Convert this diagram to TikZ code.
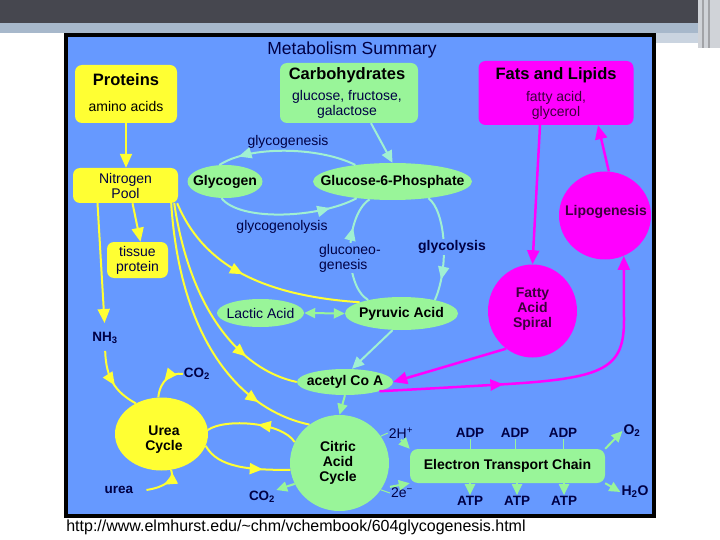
\documentclass[tikz,border=0pt]{standalone}
\usepackage{fontspec}
\setmainfont{Liberation Sans}
\usetikzlibrary{arrows.meta,shapes.geometric,decorations.markings}
\definecolor{slideDark}{HTML}{46474F}
\definecolor{slideBand}{HTML}{A7B8CB}
\definecolor{slideEdge}{HTML}{D0D3D8}
\definecolor{metaBlue}{HTML}{6699FF}
\definecolor{metaNavy}{HTML}{000044}
\definecolor{metaPlum}{HTML}{3C003C}
\definecolor{metaYellow}{HTML}{FFFF33}
\definecolor{metaGreen}{HTML}{99F599}
\definecolor{metaMint}{HTML}{A0F0D2}
\definecolor{metaMagenta}{HTML}{FF00FF}
\tikzset{
  boxYellow/.style={draw=none, fill=metaYellow, rounded corners=7pt},
  boxGreen/.style={boxYellow, fill=metaGreen},
  boxMagenta/.style={boxYellow, fill=metaMagenta},
  ovalGreen/.style={ellipse, fill=metaGreen, inner sep=0pt},
  ovalYellow/.style={ellipse, fill=metaYellow, inner sep=0pt},
  ovalMagenta/.style={ellipse, fill=metaMagenta, inner sep=0pt},
  titleText/.style={font=\fontsize{17.5}{20}\selectfont, text=metaNavy, inner sep=1pt},
  headText/.style={font=\fontsize{16.5}{19}\selectfont\bfseries, inner sep=1pt},
  subText/.style={font=\fontsize{14}{15}\selectfont, align=center, inner sep=1pt},
  noteText/.style={font=\fontsize{14}{15}\selectfont, text=metaNavy, align=left, inner sep=1pt},
  nameText/.style={font=\fontsize{14}{15}\selectfont\bfseries, align=center, inner sep=1pt},
  tagText/.style={font=\fontsize{13.5}{15}\selectfont\bfseries, text=metaNavy, inner sep=1pt},
  lineYellow/.style={color=metaYellow, line width=2pt},
  lineGreen/.style={color=metaGreen, line width=2pt},
  lineMint/.style={color=metaMint, line width=2pt},
  lineMagenta/.style={color=metaMagenta, line width=2.5pt},
  arrowYellow/.style={lineYellow, -{Triangle[length=14pt,width=12pt]}},
  arrowGreen/.style={lineGreen, -{Triangle[length=11pt,width=10pt]}},
  arrowMint/.style={lineMint, -{Triangle[length=12pt,width=11pt]}},
  arrowMagenta/.style={lineMagenta, -{Triangle[length=14pt,width=12pt]}},
  midArrow/.style={postaction={decorate}, decoration={markings,
    mark=at position #1 with {\arrow{Triangle[length=13pt,width=11pt]}}}}
}

\begin{document}
\begin{tikzpicture}[x=1pt, y=-1pt, font=\fontsize{14}{15}\selectfont]
  \useasboundingbox[fill=white] (0,0) rectangle (720,540);
  \fill[slideDark] (0,0) rectangle (698,23);
  \fill[slideBand] (0,23) rectangle (698,33);
  \fill[slideBand!60] (654,33) rectangle (698,43);
  \fill[slideEdge] (698,0) rectangle (720,48);
  \draw[slideDark!50, line width=1.5pt] (703,0) -- (703,48) (709,0) -- (709,48);
  \fill[metaBlue] (66,35) rectangle (654,516);

  \node[titleText] (title) at (352,50) {Metabolism Summary};

  \node[boxYellow, minimum width=102, minimum height=58] (proteins) at (126,94) {};
  \node[headText] (proteinsHead) at (126,80) {Proteins};
  \node[subText] (proteinsSub) at (126,106) {amino acids};
  \node[boxGreen, minimum width=138, minimum height=60] (carbs) at (349,93) {};
  \node[headText] (carbsHead) at (347,75) {Carbohydrates};
  \node[subText, text=metaNavy] (carbsSub) at (347,104) {glucose, fructose,\\galactose};
  \node[boxMagenta, minimum width=155, minimum height=64] (fats) at (556,93) {};
  \node[headText] (fatsHead) at (556,75) {Fats and Lipids};
  \node[subText, text=metaPlum] (fatsSub) at (556,105) {fatty acid,\\glycerol};

  \node[subText, text=metaNavy, boxYellow, minimum width=105, minimum height=35] (nitrogen) at (125.5,185.5) {Nitrogen\\Pool};
  \node[subText, text=metaNavy, boxYellow, minimum width=61, minimum height=36] (tissue) at (137.5,260) {tissue\\protein};

  \node[ovalGreen, minimum width=75, minimum height=33] (glycogen) at (225,181.5) {};
  \node[nameText] (glycogenText) at (glycogen) {Glycogen};
  \node[ovalGreen, minimum width=159, minimum height=37] (g6p) at (392.5,181.5) {};
  \node[nameText] (g6pText) at (g6p) {Glucose-6-Phosphate};
  \node[ovalMagenta, minimum width=92, minimum height=88] (lipo) at (605,215.5) {};
  \node[nameText, text=metaPlum] (lipoText) at (606,212) {Lipogenesis};
  \node[noteText] (glycogenesis) at (288,142) {glycogenesis};
  \node[noteText] (glycogenolysis) at (282,227) {glycogenolysis};

  \node[ovalGreen, minimum width=87, minimum height=28] (lactic) at (260.5,313) {};
  \node[noteText] (lacticText) at (lactic) {Lactic Acid};
  \node[ovalGreen, minimum width=113, minimum height=33] (pyruvic) at (401.5,313.5) {};
  \node[nameText] (pyruvicText) at (pyruvic) {Pyruvic Acid};
  \node[ovalMagenta, minimum width=89, minimum height=93] (fatty) at (532.5,311) {};
  \node[nameText, text=metaPlum] (fattyText) at (532.5,309) {Fatty\\Acid\\Spiral};
  \node[tagText] (nh3) at (105,338) {NH\textsubscript{3}};
  \node[tagText] (co2Up) at (197,374) {CO\textsubscript{2}};
  \node[ovalGreen, minimum width=96, minimum height=26] (acetyl) at (345,382) {};
  \node[nameText] (acetylText) at (acetyl) {acetyl Co A};

  \node[ovalYellow, minimum width=93, minimum height=73] (urea) at (161.5,434) {};
  \node[nameText] (ureaText) at (164,440) {Urea\\Cycle};
  \node[ovalGreen, minimum width=99, minimum height=96] (citric) at (339.5,463) {};
  \node[nameText] (citricText) at (338,463) {Citric\\Acid\\Cycle};
  \node[tagText] (ureaOut) at (119,490) {urea};
  \node[tagText] (co2Low) at (262,497) {CO\textsubscript{2}};
  \node[nameText, boxGreen, rounded corners=8pt, minimum width=195, minimum height=34] (etc) at (507.5,466) {Electron Transport Chain};
  \node[tagText, font=\fontsize{14}{15}\selectfont] (h2) at (401,433) {2H\textsuperscript{+}};
  \node[tagText, font=\fontsize{14}{15}\selectfont] (e2) at (402,493) {2e\textsuperscript{−}};
  \node[tagText] (adp1) at (470,433) {ADP};
  \node[tagText] (adp2) at (515,433) {ADP};
  \node[tagText] (adp3) at (563,433) {ADP};
  \node[tagText] (atp1) at (470,501) {ATP};
  \node[tagText] (atp2) at (517,501) {ATP};
  \node[tagText] (atp3) at (564,501) {ATP};
  \node[tagText, font=\fontsize{14}{15}\selectfont\bfseries] (o2) at (632,431) {O\textsubscript{2}};
  \node[tagText, font=\fontsize{14}{15}\selectfont\bfseries] (h2o) at (635,492) {H\textsubscript{2}O};

  \draw[arrowYellow] (proteins.south) -- (proteins.south |- nitrogen.north);
  \draw[arrowYellow, shorten >=8pt] ([xshift=-28]nitrogen.south) -- (nh3.north);
  \draw[arrowYellow] ([xshift=7]nitrogen.south) -- ([xshift=3]tissue.north);
  \draw[lineYellow, midArrow=0.45] ([xshift=-1]nitrogen.south east) .. controls (205,270) and (270,296) .. (pyruvic.165);
  \draw[lineYellow, midArrow=0.75] ([xshift=-4]nitrogen.south east) .. controls (190,310) and (240,370) .. (acetyl.west);
  \draw[lineYellow, midArrow=0.8] ([xshift=-7]nitrogen.south east) .. controls (180,340) and (240,410) .. (citric.128);
  \draw[lineYellow, midArrow=0.6, shorten <=6pt] (nh3.south) .. controls (106,378) and (115,392) .. (urea.130);
  \draw[lineYellow, midArrow=0.55] (co2Up.west) .. controls (172,372) and (160,380) .. (urea.95);
  \draw[lineYellow, midArrow=0.5] (urea.-75) .. controls (175,480) and (165,487) .. ([xshift=12]ureaOut.east);
  \draw[lineYellow, midArrow=0.45] (citric.155) .. controls (282,422) and (225,418) .. (urea.5);
  \draw[lineYellow, midArrow=0.7] (urea.-15) .. controls (218,468) and (250,470) .. (citric.188);

  \draw[arrowMint] ([xshift=22]carbs.south) -- (g6p.north);
  \draw[lineMint, midArrow=0.85] (g6p.156) .. controls (320,147) and (250,145) .. (glycogen.109);
  \draw[lineMint, midArrow=0.8] (glycogen.258) .. controls (240,222) and (320,218) .. (g6p.205);
  \draw[lineMint, midArrow=0.7] (pyruvic.158) .. controls (343,285) and (345,215) .. (g6p.218);
  \draw[lineMint, midArrow=0.8] (g6p.-25) .. controls (445,210) and (450,265) .. (pyruvic.22);
  \draw[lineGreen, {Triangle[length=11pt,width=10pt]}-{Triangle[length=11pt,width=10pt]}] (lactic.east) -- (pyruvic.west);
  \draw[arrowMint] ([xshift=-9]pyruvic.south) -- ([xshift=7]acetyl.north);
  \draw[arrowGreen] (acetyl.south) -- (citric.north);
  \draw[arrowGreen] (citric.205) -- (co2Low.north east);
  \draw[lineGreen, line width=1pt] (citric.33) -- (h2.west);
  \draw[arrowGreen] (h2.south) -- (etc.north west);
  \draw[lineGreen, line width=1pt] (citric.-33) -- (e2.west);
  \draw[arrowGreen] (e2.north west) -- (etc.south west);
  \draw[lineGreen, line width=1pt] (adp1.south) -- (adp1.south |- etc.north);
  \draw[lineGreen, line width=1pt] (adp2.south) -- (adp2.south |- etc.north);
  \draw[lineGreen, line width=1pt] (adp3.south) -- (adp3.south |- etc.north);
  \draw[arrowGreen] (atp1.north |- etc.south) -- (atp1.north);
  \draw[arrowGreen] (atp2.north |- etc.south) -- (atp2.north);
  \draw[arrowGreen] (atp3.north |- etc.south) -- (atp3.north);
  \draw[arrowGreen] (etc.north east) -- (o2.west);
  \draw[arrowGreen] (etc.south east) -- (h2o.west);

  \draw[arrowMagenta] ([xshift=-16]fats.south) -- (fatty.north);
  \draw[arrowMagenta] (lipo.85) -- ([xshift=42]fats.south);
  \draw[arrowMagenta] (fatty.235) -- (acetyl.east);
  \draw[arrowMagenta, midArrow=0.36] (acetyl.-15) .. controls (440,388) .. (508,384) .. controls (605,378) and (624,368) .. (624,320) -- (lipo.-65);

  \node[noteText, fill=metaBlue, anchor=west] (gluconeo) at (318,258) {gluconeo-\\genesis};
  \node[nameText, text=metaNavy, fill=metaBlue] (glycolysis) at (452,247) {glycolysis};

  \draw[line width=4pt] (66,35) rectangle (654,516);
  \node[font=\fontsize{16}{18}\selectfont] (url) at (296,527) {http://www.elmhurst.edu/\textasciitilde chm/vchembook/604glycogenesis.html};
\end{tikzpicture}
\end{document}
